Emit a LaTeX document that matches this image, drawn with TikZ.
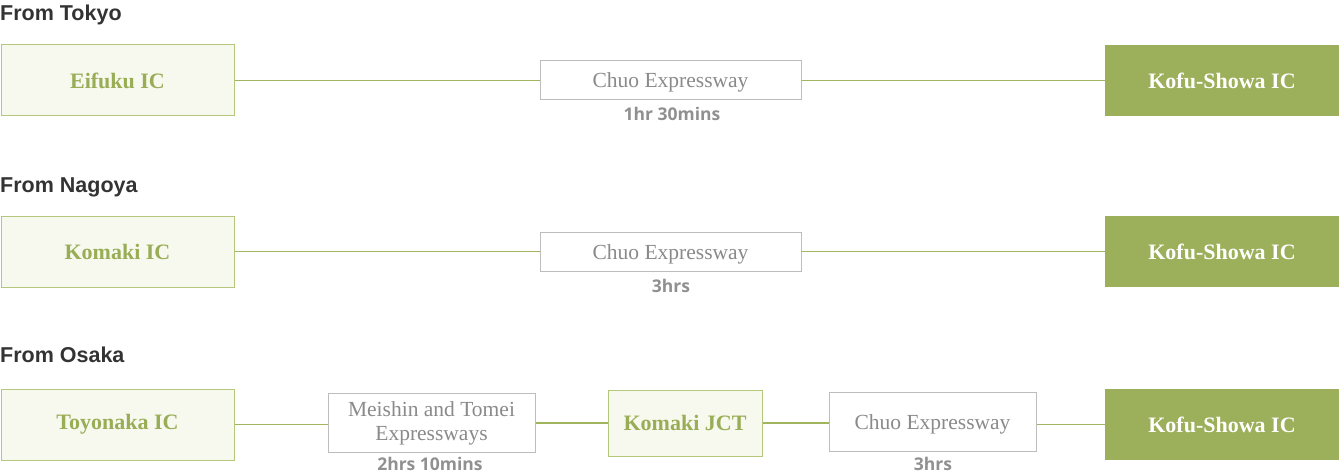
\documentclass[tikz,border=0pt]{standalone}
\usepackage{fontspec}
\setmainfont{Liberation Serif}
\newfontfamily\headfont{Liberation Sans}
\newfontfamily\timefont{Open Sans}
\definecolor{gline}{HTML}{A0B55E}
\definecolor{gfill}{HTML}{9CAF5A}
\definecolor{lfill}{HTML}{F7F9EE}
\definecolor{lborder}{HTML}{B4C77C}
\definecolor{gtext}{HTML}{98AD56}
\definecolor{graytext}{HTML}{8A8A8A}
\definecolor{grayborder}{HTML}{BDBDBD}
\definecolor{timegray}{HTML}{909090}
\definecolor{headgray}{HTML}{333333}
\tikzset{
  x=1pt, y=-1pt,
  startbox/.style={draw=lborder, fill=lfill, line width=1pt, minimum width=233pt, minimum height=71pt, inner sep=0pt, text=gtext, font=\fontsize{22}{24}\selectfont\bfseries},
  endbox/.style={fill=gfill, minimum width=234pt, minimum height=71pt, inner sep=0pt, text=white, font=\fontsize{22}{24}\selectfont\bfseries},
  roadbox/.style={draw=grayborder, fill=white, line width=1pt, inner sep=0pt, text=graytext, font=\fontsize{21.5}{24}\selectfont, align=center},
  onerow/.style={text height=15pt, text depth=0pt},
  jctbox/.style={draw=lborder, fill=lfill, line width=1pt, minimum width=154pt, minimum height=66pt, inner sep=0pt, text=gtext, font=\fontsize{22}{24}\selectfont\bfseries},
  conn/.style={draw=gline, line width=1.9pt},
  heading/.style={anchor=base west, inner sep=0pt, text=headgray, font=\headfont\fontsize{21.5}{24}\selectfont\bfseries},
  timelabel/.style={anchor=base, inner sep=0pt, text=timegray, font=\timefont\fontsize{17.5}{20}\selectfont\bfseries},
}
\begin{document}
\begin{tikzpicture}
\useasboundingbox (0,0) rectangle (1340,476);
% Row 1
\node[heading] (h1) at (0,20.5) {From Tokyo};
\node[startbox] (a1) at (117.5,80.5) {Eifuku IC};
\node[roadbox, onerow, minimum width=261pt, minimum height=39pt] (r1) at (670.5,80.5) {Chuo Expressway};
\node[endbox] (e1) at (1222,80.5) {Kofu-Showa IC};
\node[timelabel] (t1) at (672,120.5) {1hr 30mins};
\draw[conn] (a1.east) -- (r1.west);
\draw[conn] (r1.east) -- (e1.west);
% Row 2
\node[heading] (h2) at (0,192) {From Nagoya};
\node[startbox] (a2) at (117.5,251.5) {Komaki IC};
\node[roadbox, onerow, minimum width=261pt, minimum height=39pt] (r2) at (670.5,251.5) {Chuo Expressway};
\node[endbox] (e2) at (1222,251.5) {Kofu-Showa IC};
\node[timelabel] (t2) at (671,292) {3hrs};
\draw[conn] (a2.east) -- (r2.west);
\draw[conn] (r2.east) -- (e2.west);
% Row 3
\node[heading] (h3) at (0,362) {From Osaka};
\node[startbox] (a3) at (117.5,424.5) {Toyonaka IC};
\node[roadbox, minimum width=207pt, minimum height=59pt, yshift=-1.5pt] (r3) at (431.5,421.5) {Meishin and Tomei\\Expressways};
\node[jctbox] (j3) at (685,423) {Komaki JCT};
\node[roadbox, onerow, minimum width=207pt, minimum height=59pt] (r4) at (932.5,421.5) {Chuo Expressway};
\node[endbox] (e3) at (1222,424.5) {Kofu-Showa IC};
\node[timelabel] (t3) at (430,470.5) {2hrs 10mins};
\node[timelabel] (t4) at (933,470.5) {3hrs};
\draw[conn] (a3.east) -- (a3.east -| r3.west);
\draw[conn] (r3.east |- j3.west) -- (j3.west);
\draw[conn] (j3.east) -- (j3.east -| r4.west);
\draw[conn] (r4.east |- e3.west) -- (e3.west);
\end{tikzpicture}
\end{document}
